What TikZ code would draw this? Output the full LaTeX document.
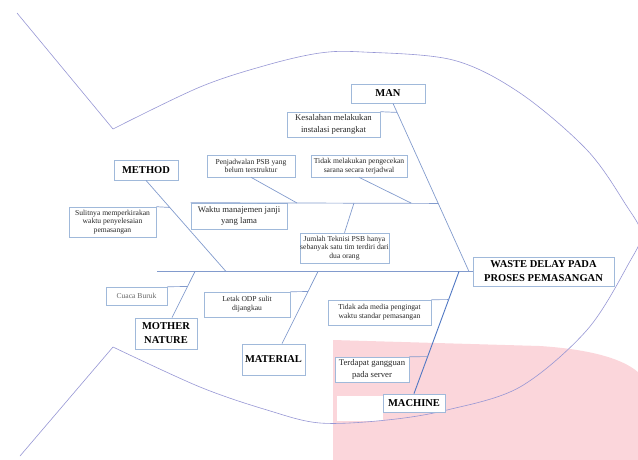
\documentclass[tikz,border=0pt]{standalone}
\usepackage{fontspec}
\setmainfont{Liberation Serif}
\usetikzlibrary{calc,positioning}

\definecolor{fishblue}{RGB}{150,150,212}
\definecolor{bonecol}{RGB}{130,155,205}
\definecolor{machinecol}{RGB}{80,120,195}
\definecolor{boxline}{RGB}{160,185,218}
\definecolor{pinkbg}{RGB}{251,214,219}
\definecolor{txtgray}{RGB}{40,40,40}

\tikzset{
  fishline/.style={draw=fishblue, line width=0.6pt},
  bone/.style={draw=bonecol, line width=0.7pt},
  cause/.style={draw=boxline, fill=white, line width=0.6pt, inner sep=0pt,
    align=center, text=txtgray, font=\fontsize{7.6}{8.7}\selectfont},
  causebig/.style={cause, font=\fontsize{8.7}{11.5}\selectfont},
  category/.style={draw=boxline, fill=white, line width=0.8pt, inner sep=0pt,
    align=center, font=\fontsize{10.5}{14}\selectfont\bfseries},
}

\begin{document}
\begin{tikzpicture}[x=1pt, y=-1pt]

    \useasboundingbox (0,0) rectangle (638,459);
    \clip (0,0) rectangle (638,459);

    % pink patch behind the head
    \fill[pinkbg] (333,340) -- (540,346) .. controls (600,350) and (628,362) .. (640,374)
        -- (640,460) -- (333,460) -- cycle;
    \fill[white] (337,396) rectangle (383,421);

    % fish outline
    \draw[fishline] (17,13) -- (113,129);
    \draw[fishline] plot[smooth, tension=0.55] coordinates {(113,129) (200,87) (267,65)
        (320,53) (363,52) (453,60) (520,93) (587,150) (626,205) (641,234) (629,263)
        (587,330) (520,387) (447,410) (387,420) (320,423) (267,410) (200,387) (113,347)};
    \draw[fishline] (113,347) -- (20,456);

    % head and categories
    \node[category, minimum width=141pt, minimum height=29pt] (effect) at (543.5,271.5)
        {WASTE DELAY PADA\\PROSES PEMASANGAN};
    \node[category, minimum width=74pt, minimum height=19pt] (man) at (388,93.5) {MAN};
    \node[category, minimum width=64pt, minimum height=20pt] (method) at (146,170) {METHOD};
    \node[category, minimum width=62pt, minimum height=31pt] (mother) at (166,333.5)
        {MOTHER\\NATURE};
    \node[category, minimum width=63pt, minimum height=31pt] (material) at (273.5,359.5)
        {MATERIAL};
    \node[category, minimum width=62pt, minimum height=18pt] (machine) at (414,403)
        {MACHINE};

    % spine and main bones
    \coordinate (tail) at (157,271.5);
    \coordinate (jman) at (469,271.5);
    \coordinate (jmethod) at (226,271.5);
    \coordinate (jmother) at (195,271.5);
    \coordinate (jmaterial) at (318,271.5);
    \coordinate (jmachine) at (459,271.5);
    \coordinate (manfoot) at ([xshift=5pt]man.south);

    \draw[bone] (tail) -- (tail -| effect.west);
    \draw[bone] (manfoot) -- (jman);
    \draw[bone] (method.south) -- (jmethod);
    \draw[bone] ([xshift=6pt]mother.north) -- (jmother);
    \draw[bone] ([xshift=8.5pt]material.north) -- (jmaterial);
    \draw[bone, draw=machinecol, line width=0.9pt] (machine.north) -- (jmachine);

    % causes
    \node[causebig, minimum width=93pt, minimum height=25pt] (kesalahan) at (333.5,124.5)
        {Kesalahan melakukan\\instalasi perangkat};
    \node[cause, minimum width=96pt, minimum height=22pt] (cek) at (359,166)
        {Tidak melakukan pengecekan\\sarana secara terjadwal};
    \node[cause, minimum width=88pt, minimum height=22pt] (jadwal) at (251,166)
        {Penjadwalan PSB yang\\belum terstruktur};
    \node[causebig, minimum width=96pt, minimum height=26pt] (janji) at (239,216)
        {Waktu manajemen janji\\yang lama};
    \node[cause, minimum width=89pt, minimum height=30pt] (teknisi) at (344.5,248)
        {Jumlah Teknisi PSB hanya\\sebanyak satu tim terdiri dari\\dua orang};
    \node[cause, minimum width=87pt, minimum height=30pt] (sulit) at (112.5,222)
        {Sulitnya memperkirakan\\waktu penyelesaian\\pemasangan};
    \node[cause, minimum width=61pt, minimum height=18pt, text=black!60] (cuaca) at (136.5,296)
        {Cuaca Buruk};
    \node[cause, minimum width=86pt, minimum height=25pt] (odp) at (247,304.5)
        {Letak ODP sulit\\dijangkau};
    \node[cause, minimum width=103pt, minimum height=25pt] (pengingat) at (379.5,312.5)
        {Tidak ada media pengingat\\waktu standar pemasangan};
    \node[causebig, minimum width=74pt, minimum height=25pt] (server) at (372,369.5)
        {Terdapat gangguan\\pada server};

    % small bones
    \coordinate (jjanji) at ($(manfoot)!0.595!(jman)$);
    \coordinate (jjadwal) at (297,203);
    \coordinate (jcek) at (411,203);
    \coordinate (jteknisi) at (354,203);

    \draw[bone] (kesalahan.north east) -- ($(manfoot)!0.0536!(jman)$);
    \draw[bone] (janji.north west) -- (jjanji);
    \draw[bone] (jadwal.south) -- (jjadwal);
    \draw[bone] (cek.south) -- (jcek);
    \draw[bone] (teknisi.north) -- (jteknisi);
    \draw[bone] (sulit.north east) -- ($(method.south)!0.297!(jmethod)$);
    \draw[bone] (cuaca.north east) -- ($([xshift=6pt]mother.north)!0.674!(jmother)$);
    \draw[bone] (odp.north east) -- ($([xshift=8.5pt]material.north)!0.722!(jmaterial)$);
    \draw[bone] (pengingat.north east) -- ($(machine.north)!0.770!(jmachine)$);
    \draw[bone] (server.north east) -- ($(machine.north)!0.303!(jmachine)$);

\end{tikzpicture}
\end{document}
